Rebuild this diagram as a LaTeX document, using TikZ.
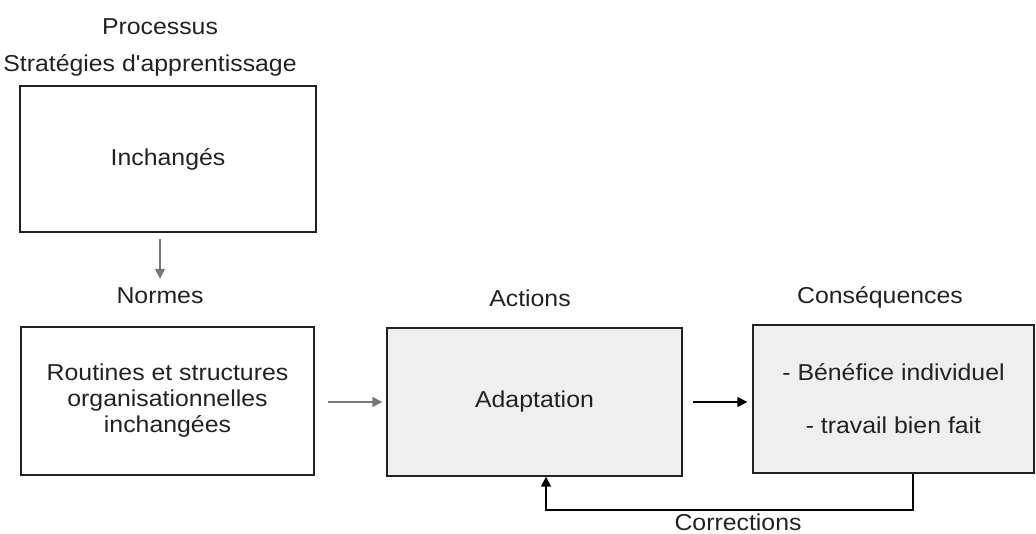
\documentclass[tikz,border=0pt]{standalone}
\usepackage{fontspec}
\setmainfont[FakeStretch=1.08,Ligatures=TeXOff]{Liberation Sans}
\usetikzlibrary{arrows.meta}
\definecolor{boxfill}{HTML}{EFEFEF}
\definecolor{linegray}{HTML}{777777}
\definecolor{ink}{HTML}{222222}
\begin{document}
\begin{tikzpicture}[x=1pt,y=-1pt,
  every node/.style={font=\fontsize{23}{26}\selectfont, text=ink},
  lbl/.style={inner sep=0pt},
  plainbox/.style={draw=ink, line width=1.4pt, inner sep=0pt, align=center},
  greybox/.style={plainbox, fill=boxfill},
  garrow/.style={draw=linegray, line width=1.6pt, -{Triangle[length=10pt,width=10pt]}},
  barrow/.style={draw=black, line width=1.6pt, -{Triangle[length=10pt,width=10pt]}}]
\useasboundingbox (0,0) rectangle (1036,534);
% labels
\node[lbl] (processus) at (160,27) {Processus};
\node[lbl] (strat) at (150,65) {Stratégies d'apprentissage};
\node[lbl] (normes) at (160,296) {Normes};
\node[lbl] (actions) at (530,298) {Actions};
\node[lbl] (conseq) at (880,297) {Conséquences};
% boxes
\node[plainbox, minimum width=296pt, minimum height=146pt] (b1) at (168,159) {Inchangés};
\node[plainbox, minimum width=293pt, minimum height=148pt] (b2) at (167.5,401)
  {Routines et structures\\organisationnelles\\inchangées};
\node[greybox, minimum width=295pt, minimum height=148pt] (b3) at (534.5,402) {Adaptation};
\node[greybox, minimum width=281pt, minimum height=148pt] (b4) at (893.5,399)
  {- Bénéfice individuel\\[27pt]- travail bien fait};
\node[lbl] (corr) at (738,522) {Corrections};
% connectors
\draw[garrow, shorten <=6pt, shorten >=9pt] (normes.north |- b1.south) -- (normes.north);
\draw[garrow, shorten <=13pt, shorten >=4pt] (b2.east |- b3) -- (b3.west);
\draw[barrow, shorten <=10pt, shorten >=5pt] (b3.east) -- (b4.west |- b3);
\draw[barrow] ([xshift=19.5pt]b4.south) -- ++(0,36) -| ([xshift=11.5pt]b3.south);
\end{tikzpicture}
\end{document}
